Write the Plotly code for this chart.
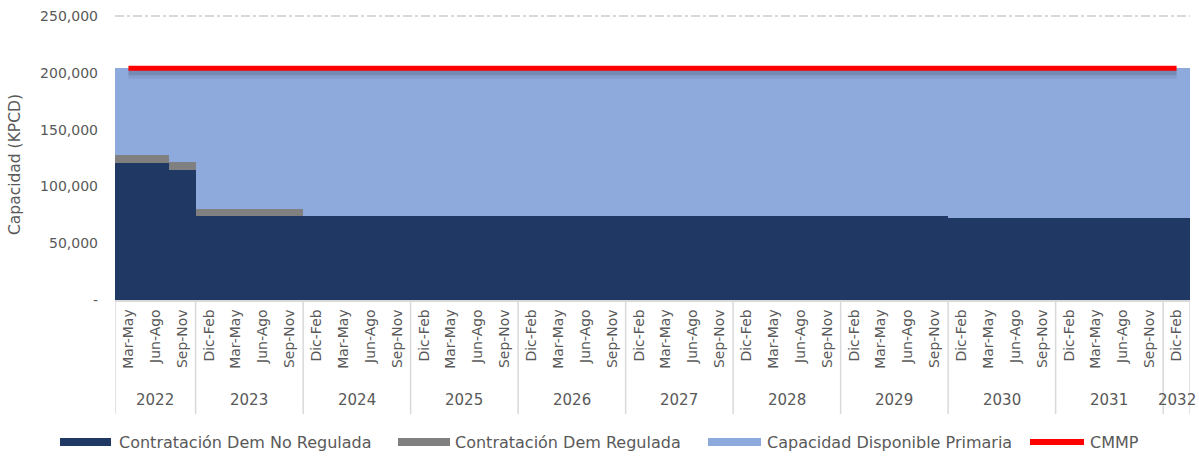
import plotly.graph_objects as go

year_list = ["2022", "2023", "2024", "2025", "2026", "2027", "2028", "2029", "2030", "2031", "2032"]
quarters_per_year = [["Mar-May", "Jun-Ago", "Sep-Nov"]] + [["Dic-Feb", "Mar-May", "Jun-Ago", "Sep-Nov"]] * 9 + [["Dic-Feb"]]

years = [y for y, qs in zip(year_list, quarters_per_year) for _ in qs]
quarters = [q for qs in quarters_per_year for q in qs]
keys = [f"{y} {q}" for y, q in zip(years, quarters)]

no_regulada = [121000, 121000, 114500] + [74000] * 4 + [74000] * 24 + [72000] * 8 + [72000]
regulada = [7000, 6500, 7000] + [6000] * 4 + [0] * 32 + [0]
cmmp = [204000] * 40
capacidad = [c - a - b for c, a, b in zip(cmmp, no_regulada, regulada)]

series_names = ["Contratación Dem No Regulada", "Contratación Dem Regulada",
                "Capacidad Disponible Primaria", "CMMP"]

FONT = "DejaVu Sans, sans-serif"
TXT = "#595959"
NAVY, GRAY, BLUE, RED = "#203864", "#808080", "#8EA9DB", "#FF0000"
DIV = "#D9D9D9"

W, H = 1199, 457
ML, MR, MT, MB = 115, 9, 15, 157
PW, PH = W - ML - MR, H - MT - MB


def px_x(p):
    return (p - ML) / PW


def px_y(p):
    return (H - MB - p) / PH


fig = go.Figure()
fig.add_trace(go.Bar(x=keys, y=no_regulada, name=series_names[0],
                     marker=dict(color=NAVY, line=dict(width=0)), showlegend=False))
fig.add_trace(go.Bar(x=keys, y=regulada, name=series_names[1],
                     marker=dict(color=GRAY, line=dict(width=0)), showlegend=False))
fig.add_trace(go.Bar(x=keys, y=capacidad, name=series_names[2],
                     marker=dict(color=BLUE, line=dict(width=0)), showlegend=False))
for off, op, w in [(4500, 0.10, 10), (3500, 0.18, 6)]:
    fig.add_trace(go.Scatter(x=keys, y=[v - off for v in cmmp], mode="lines", showlegend=False,
                             hoverinfo="skip", line=dict(color=f"rgba(50,55,80,{op})", width=w)))
fig.add_trace(go.Scatter(x=keys, y=cmmp, mode="lines", name=series_names[3], showlegend=False,
                         line=dict(color=RED, width=5)))

annotations = []
shapes = []

# year group labels and dividers
start = 0
for y, qs in zip(year_list, quarters_per_year):
    n = len(qs)
    annotations.append(dict(x=start + (n - 1) / 2, y=-0.352, xref="x", yref="paper",
                            text=y, showarrow=False, yanchor="middle",
                            font=dict(family=FONT, size=15, color=TXT)))
    shapes.append(dict(type="line", xref="x", yref="paper", x0=start - 0.5, x1=start - 0.5,
                       y0=0, y1=-0.40, line=dict(color=DIV, width=1.5)))
    start += n
shapes.append(dict(type="line", xref="x", yref="paper", x0=start - 0.5, x1=start - 0.5,
                   y0=0, y1=-0.40, line=dict(color=DIV, width=1.5)))

# y-axis title
annotations.append(dict(x=px_x(15), y=px_y(165), xref="paper", yref="paper", text="Capacidad (KPCD)",
                        textangle=-90, showarrow=False, xanchor="center", yanchor="middle",
                        font=dict(family=FONT, size=15.5, color=TXT)))

# legend (drawn as key shapes + text, laid out like the reference)
LEG_Y = 442
legend_items = [(series_names[0], NAVY, "rect", 60, 111, 117),
                (series_names[1], GRAY, "rect", 398, 450, 453),
                (series_names[2], BLUE, "rect", 708, 761, 765),
                (series_names[3], RED, "line", 1030, 1084, 1088)]
for name, color, kind, x0, x1, tx in legend_items:
    if kind == "rect":
        shapes.append(dict(type="rect", xref="paper", yref="paper",
                           x0=px_x(x0), x1=px_x(x1), y0=px_y(LEG_Y + 4), y1=px_y(LEG_Y - 4),
                           fillcolor=color, line=dict(width=0)))
    else:
        shapes.append(dict(type="line", xref="paper", yref="paper",
                           x0=px_x(x0), x1=px_x(x1), y0=px_y(LEG_Y), y1=px_y(LEG_Y),
                           line=dict(color=color, width=6)))
    annotations.append(dict(x=px_x(tx), y=px_y(LEG_Y), xref="paper", yref="paper", text=name,
                            showarrow=False, xanchor="left", yanchor="middle",
                            font=dict(family=FONT, size=16, color=TXT)))

fig.update_layout(
    width=W, height=H,
    margin=dict(l=ML, r=MR, t=MT, b=MB, autoexpand=False),
    barmode="stack", bargap=0,
    plot_bgcolor="white", paper_bgcolor="white",
    font=dict(family=FONT, size=14, color=TXT),
    showlegend=False,
    annotations=annotations, shapes=shapes,
)
fig.update_yaxes(range=[0, 250900], tickvals=[0, 50000, 100000, 150000, 200000, 250000],
                 ticktext=["-", "50,000", "100,000", "150,000", "200,000", "250,000"],
                 showgrid=True, gridcolor=DIV, griddash="dashdot", gridwidth=1.5,
                 zeroline=False, showline=False, tickfont=dict(family=FONT, size=14, color=TXT),
                 ticklabelstandoff=16, automargin=False)
fig.update_xaxes(type="category", tickvals=keys, ticktext=quarters, tickangle=-90,
                 showline=True, linecolor=DIV, linewidth=1.5, ticks="", showgrid=False,
                 automargin=False, tickfont=dict(family=FONT, size=14, color=TXT),
                 range=[-0.5, 39.5], ticklabelstandoff=2)

fig.write_html("out.html", config={"displayModeBar": False},
               post_script="document.body.style.margin='0';")
